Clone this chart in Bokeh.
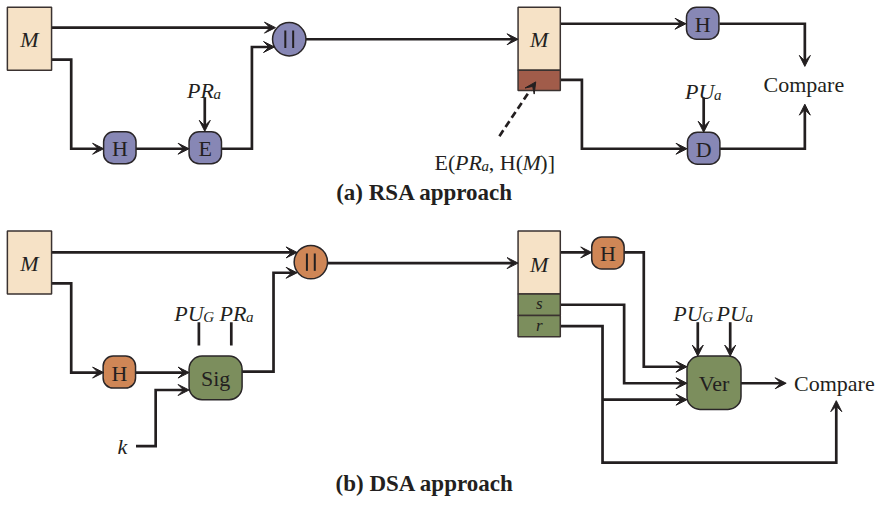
from bokeh.plotting import figure
from bokeh.models import Range1d, Arrow, VeeHead, ColumnDataSource
from bokeh.core.properties import value
from bokeh.embed import file_html
from bokeh.resources import INLINE

INK = "#231f20"
CREAM = "#f6e2c6"
BROWN = "#a15c4a"
LAV = "#8787b5"
ORANGE = "#cf8656"
GREEN = "#7c8e5d"
FONT = "Liberation Serif"

# ---- message blocks (plain rectangles) ----
blk_x = [29.5, 548.5, 548.5, 29.5, 548.5, 548.5, 548.5]
blk_y = [39.5, 39.5, 82.5, 270.5, 270.5, 314, 336]
blk_w = [45, 43, 43, 45, 43, 43, 43]
blk_h = [65, 65, 21, 65, 65, 22, 22]
blk_fill = [CREAM, CREAM, BROWN, CREAM, CREAM, GREEN, GREEN]

# ---- function boxes (rounded) ----
small_x = [121.5, 208.5, 715, 716, 121, 618.5]
small_y = [152, 152, 23.5, 152.5, 383.5, 260.5]
small_fill = [LAV, LAV, LAV, LAV, ORANGE, ORANGE]
small_text = ["H", "E", "H", "D", "H", "H"]
big_x = [219, 726.5]
big_y = [389.5, 394.5]
big_w = [54, 55]
big_h = [45, 55]
big_text = ["Sig", "Ver"]

# ---- concatenation circles ----
cat_x = [294, 316]
cat_y = [40, 270]
cat_fill = [LAV, ORANGE]

# ---- arrows (polylines ending with an arrowhead) ----
path_xs = [
    [52, 280], [52, 72, 72, 105], [138, 192], [208, 208],
    [225, 256, 256, 279], [311, 527], [570, 698], [732, 819, 819],
    [570, 592, 592, 699], [716, 716], [732, 819, 819],
    [52, 302], [52, 72, 72, 105], [137, 192], [138, 158, 158, 192],
    [246, 278, 278, 302], [333, 527], [570, 602], [635, 655, 655, 699],
    [570, 635, 635, 699], [570, 613, 613, 851, 851], [613, 699],
    [710, 710], [743, 743], [754, 800],
]
path_ys = [
    [28, 28], [61, 61, 153, 153], [153, 153], [100, 135],
    [153, 153, 48, 48], [40, 40], [24, 24], [24, 24, 68],
    [82, 82, 153, 153], [100, 136], [153, 153, 107],
    [260, 260], [292, 292, 384, 384], [384, 384], [460, 460, 402, 402],
    [383, 383, 281, 281], [271, 271], [260, 260], [260, 260, 378, 378],
    [314, 314, 395, 395], [336, 336, 477, 477, 413], [412, 412],
    [332, 367], [332, 367], [395, 395],
]
# plain key lines (no heads)
key_xs = [[202, 202], [235, 235]]
key_ys = [[332, 356], [332, 356]]
# dashed pointer
dash_x = [508, 545]
dash_y = [140, 84]

# ---- texts ----
# (text, x, y, size, style, align, baseline)
labels = [
    ("M", 29.5, 40, 22, "italic", "center", "middle"),
    ("M", 548.5, 40, 22, "italic", "center", "middle"),
    ("M", 29.5, 271, 22, "italic", "center", "middle"),
    ("M", 548.5, 272, 22, "italic", "center", "middle"),
    ("s", 548.5, 313, 17, "italic", "center", "middle"),
    ("r", 548.5, 335, 17, "italic", "center", "middle"),
    ("k", 124, 460, 22, "italic", "center", "middle"),
    ("Compare", 818, 87, 22, "normal", "center", "middle"),
    ("Compare", 808, 395, 22, "normal", "left", "middle"),
    ("(a) RSA approach", 432, 198, 23, "bold", "center", "middle"),
    ("(b) DSA approach", 432, 498, 23, "bold", "center", "middle"),
    # subscripted labels
    ("PR", 190, 93, 22, "italic", "left", "alphabetic"),
    ("a", 217, 97, 15, "italic", "left", "alphabetic"),
    ("PU", 697, 94, 22, "italic", "left", "alphabetic"),
    ("a", 726.5, 98, 15, "italic", "left", "alphabetic"),
    ("PU", 177, 323, 22, "italic", "left", "alphabetic"),
    ("G", 206.5, 327, 15, "italic", "left", "alphabetic"),
    ("PR", 223, 323, 22, "italic", "left", "alphabetic"),
    ("a", 250, 327, 15, "italic", "left", "alphabetic"),
    ("PU", 685, 323, 22, "italic", "left", "alphabetic"),
    ("G", 714.5, 327, 15, "italic", "left", "alphabetic"),
    ("PU", 729, 323, 22, "italic", "left", "alphabetic"),
    ("a", 758.5, 327, 15, "italic", "left", "alphabetic"),
    # E(PR_a, H(M)]
    ("E(", 442, 167, 22, "normal", "left", "alphabetic"),
    ("PR", 462.8, 167, 22, "italic", "left", "alphabetic"),
    ("a", 489.7, 171, 15, "italic", "left", "alphabetic"),
    (", H(", 497.2, 167, 22, "normal", "left", "alphabetic"),
    ("M", 531.4, 167, 22, "italic", "left", "alphabetic"),
    (")]", 549.7, 167, 22, "normal", "left", "alphabetic"),
]

p = figure(width=878, height=499, output_backend="svg", toolbar_location=None,
           x_range=Range1d(0, 894), y_range=Range1d(515, 0),
           x_axis_location=None, y_axis_location=None, min_border=0,
           outline_line_color=None, background_fill_color="white",
           border_fill_color="white")
p.grid.visible = False

LW = 2.7
HEAD = 11

# connectors
ml_xs, ml_ys = [], []
for xs, ys in zip(path_xs, path_ys):
    x0, y0, x1, y1 = xs[-2], ys[-2], xs[-1], ys[-1]
    L = ((x1 - x0) ** 2 + (y1 - y0) ** 2) ** 0.5
    ux, uy = (x1 - x0) / L, (y1 - y0) / L
    ml_xs.append(list(xs[:-1]) + [x1 - ux * 5])
    ml_ys.append(list(ys[:-1]) + [y1 - uy * 5])
    p.add_layout(Arrow(end=VeeHead(size=HEAD, fill_color=INK, line_color=INK, line_width=1),
                       x_start=x1 - ux * 2, y_start=y1 - uy * 2, x_end=x1, y_end=y1,
                       line_alpha=0))
p.multi_line(ml_xs, ml_ys, line_color=INK, line_width=LW, line_join="miter")
p.multi_line(key_xs, key_ys, line_color=INK, line_width=LW)

# dashed pointer
L = ((dash_x[1] - dash_x[0]) ** 2 + (dash_y[1] - dash_y[0]) ** 2) ** 0.5
ux, uy = (dash_x[1] - dash_x[0]) / L, (dash_y[1] - dash_y[0]) / L
p.line([dash_x[0], dash_x[1] - ux * 5], [dash_y[0], dash_y[1] - uy * 5],
       line_color=INK, line_width=LW, line_dash="7 4")
p.add_layout(Arrow(end=VeeHead(size=HEAD, fill_color=INK, line_color=INK, line_width=1),
                   x_start=dash_x[1] - ux * 2, y_start=dash_y[1] - uy * 2,
                   x_end=dash_x[1], y_end=dash_y[1], line_alpha=0))

# blocks
p.rect(x=blk_x, y=blk_y, width=blk_w, height=blk_h, fill_color=blk_fill,
       line_color="#3a3230", line_width=1.5)

# rounded boxes
p.rect(x=small_x, y=small_y, width=33, height=33, fill_color=small_fill,
       line_color="#2a2628", line_width=1.5, border_radius=10)
p.rect(x=big_x, y=big_y, width=big_w, height=big_h, fill_color=GREEN,
       line_color="#2a2628", line_width=1.5, border_radius=13)

# concatenation circles with ||
p.circle(x=cat_x, y=cat_y, radius=17, fill_color=cat_fill, line_color="#2a2628",
         line_width=1.5)
bar_xs, bar_ys = [], []
for cx, cy in zip(cat_x, cat_y):
    for dx in (-4, 4):
        bar_xs.append([cx + dx, cx + dx])
        bar_ys.append([cy - 9, cy + 9])
p.multi_line(bar_xs, bar_ys, line_color=INK, line_width=2)

# box labels
p.text(x=small_x, y=[v + 1 for v in small_y], text=small_text, text_font=value(FONT),
       text_font_size="22px", text_align="center", text_baseline="middle", text_color=INK)
p.text(x=big_x, y=[v + 1 for v in big_y], text=big_text, text_font=value(FONT),
       text_font_size="22px", text_align="center", text_baseline="middle", text_color=INK)

# other labels grouped by style/alignment
groups = {}
for t, x, y, s, st, al, bl in labels:
    groups.setdefault((st, al, bl), []).append((t, x, y, s))
for (st, al, bl), items in groups.items():
    src = ColumnDataSource(dict(
        x=[i[1] for i in items], y=[i[2] for i in items],
        text=[i[0] for i in items], fs=[f"{i[3]}px" for i in items]))
    p.text(x="x", y="y", text="text", source=src, text_font=value(FONT),
           text_font_size="fs", text_font_style=st, text_align=al,
           text_baseline=bl, text_color=INK)

open("out.html", "w").write(file_html(p, INLINE))
